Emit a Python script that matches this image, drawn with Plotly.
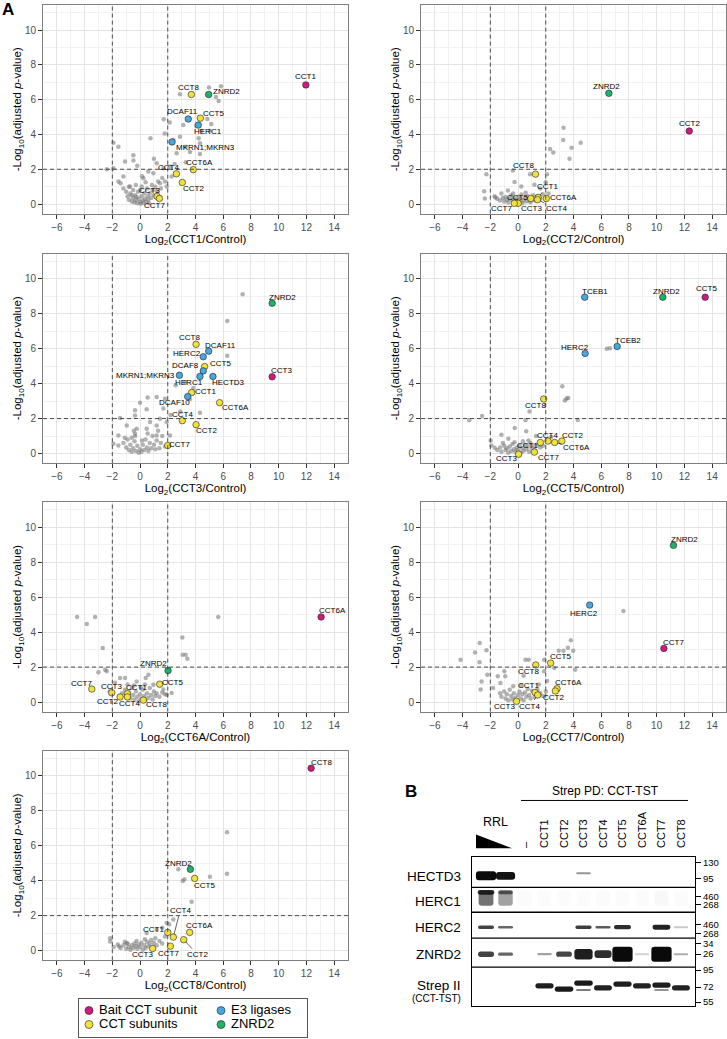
import plotly.graph_objects as go

FONT = "Liberation Sans, Arial, Helvetica, sans-serif"
W, H = 727, 1039

CLASS_COLORS = {
    "bait": "#CF1A82",
    "cct": "#F2E13C",
    "e3": "#48A7DF",
    "znrd2": "#1CB46B",
}

# ------------------------------------------------------------------
# Panel A: volcano data, (log2 fold change, -log10 adjusted p)
# highlighted proteins: (name, class, log2FC, -log10 p)
# ------------------------------------------------------------------
cct1_hits = [
    ("CCT1", "bait", 11.96, 6.85),
    ("CCT8", "cct", 3.70, 6.30),
    ("ZNRD2", "znrd2", 4.95, 6.30),
    ("DCAF11", "e3", 3.48, 4.89),
    ("CCT5", "cct", 4.35, 4.94),
    ("HERC1", "e3", 4.20, 4.54),
    ("MKRN1;MKRN3", "e3", 2.31, 3.57),
    ("CCT4", "cct", 2.62, 1.74),
    ("CCT6A", "cct", 3.84, 1.98),
    ("CCT2", "cct", 3.05, 1.24),
    ("CCT3", "cct", 1.23, 0.44),
    ("CCT7", "cct", 1.40, 0.32),
]
cct1_bg = [
    (2.88, 6.32), (4.97, 6.70), (5.84, 6.77), (5.48, 6.16), (5.67, 5.93),
    (2.14, 4.69), (1.71, 4.87), (3.12, 4.54), (4.85, 4.89), (5.14, 4.60),
    (4.06, 4.50), (4.44, 4.22), (5.04, 4.22), (4.23, 3.78), (0.75, 3.78),
    (1.78, 4.06), (2.88, 3.87), (2.40, 3.68), (4.32, 3.49), (3.29, 3.30),
    (2.64, 2.92), (4.32, 2.88), (3.60, 3.00), (-1.92, 3.53), (-1.56, 3.30),
    (-0.48, 2.81), (-0.48, 2.50), (-1.08, 2.44), (-2.40, 2.00), (-1.92, 2.06),
    (1.20, 2.35), (1.68, 2.06), (0.96, 1.77), (0.60, 1.87), (2.16, 2.16),
    (2.28, 1.58), (1.92, 1.01), (1.44, 1.20), (-1.20, 1.58), (-1.56, 1.30),
    (-0.72, 1.01), (0.24, 1.49), (0.12, 1.01), (2.50, 2.30), (3.30, 2.40),
    (1.00, 2.60), (-0.20, 2.20),
    (-1.2, 0.9), (-1.0, 0.7), (-0.9, 0.45), (-0.8, 0.25), (-0.7, 0.6),
    (-0.6, 0.15), (-0.5, 0.35), (-0.5, 0.8), (-0.4, 0.1), (-0.35, 0.5),
    (-0.3, 0.25), (-0.2, 0.05), (-0.15, 0.7), (-0.1, 0.3), (0.0, 0.12),
    (0.05, 0.02), (0.1, 0.45), (0.2, 0.2), (0.25, 0.08), (0.3, 0.6),
    (0.35, 0.3), (0.45, 0.15), (0.5, 0.9), (0.55, 0.45), (0.6, 0.25),
    (0.7, 0.6), (0.8, 0.35), (0.85, 1.1), (0.9, 0.8), (1.0, 0.5),
    (1.1, 1.0), (1.2, 0.75), (1.3, 1.3), (1.5, 0.9), (1.6, 1.5),
    (1.8, 1.3), (-1.4, 1.2), (-0.3, 1.1), (0.4, 1.25), (-0.8, 1.0),
    (0.0, 0.8), (0.15, 1.6), (-0.6, 0.5), (0.65, 0.05), (-0.25, 0.4),
]

cct2_hits = [
    ("CCT2", "bait", 12.35, 4.20),
    ("ZNRD2", "znrd2", 6.55, 6.37),
    ("CCT8", "cct", 1.26, 1.72),
    ("CCT5", "cct", 0.92, 0.32),
    ("CCT1", "cct", 1.45, 0.38),
    ("CCT4", "cct", 1.40, 0.25),
    ("CCT6A", "cct", 2.04, 0.32),
    ("CCT3", "cct", 0.01, 0.04),
    ("CCT7", "cct", -0.27, 0.04),
]
cct2_bg = [
    (3.28, 4.39), (3.26, 3.68), (3.86, 3.24), (4.52, 3.53), (2.31, 3.17),
    (2.54, 2.96), (3.71, 2.60), (-2.28, 1.72), (-0.37, 1.93), (0.87, 1.72),
    (2.09, 1.72), (-0.25, 1.26), (-2.44, 0.73), (-2.40, 0.32), (-1.63, 0.38),
    (-0.73, 0.78), (0.23, 1.01), (1.18, 1.11), (2.00, 1.25), (1.60, 0.90),
    (-1.20, 0.60),
    (-1.5, 0.3), (-1.3, 0.2), (-1.1, 0.35), (-1.0, 0.15), (-0.9, 0.4),
    (-0.8, 0.25), (-0.7, 0.1), (-0.6, 0.3), (-0.5, 0.5), (-0.4, 0.2),
    (-0.3, 0.35), (-0.2, 0.1), (-0.1, 0.25), (0.0, 0.4), (0.1, 0.15),
    (0.2, 0.3), (0.3, 0.05), (0.4, 0.2), (0.5, 0.35), (0.6, 0.15),
    (0.7, 0.45), (0.8, 0.2), (0.9, 0.1), (1.0, 0.3), (1.1, 0.5),
    (1.2, 0.2), (1.4, 0.45), (1.6, 0.3), (1.8, 0.55), (2.0, 0.25),
    (2.2, 0.6), (-0.35, 0.6), (0.25, 0.55), (-1.7, 0.45), (0.55, 0.65),
    (0.05, 0.05),
]

cct3_hits = [
    ("CCT3", "bait", 9.53, 4.39),
    ("ZNRD2", "znrd2", 9.53, 8.60),
    ("CCT8", "cct", 4.04, 6.25),
    ("DCAF11", "e3", 4.95, 5.86),
    ("HERC2", "e3", 4.56, 5.54),
    ("CCT5", "cct", 4.66, 4.98),
    ("DCAF8", "e3", 4.56, 4.73),
    ("MKRN1;MKRN3", "e3", 2.84, 4.48),
    ("HERC1", "e3", 4.32, 4.41),
    ("HECTD3", "e3", 5.26, 4.41),
    ("CCT1", "cct", 3.72, 3.49),
    ("DCAF10", "e3", 3.44, 3.26),
    ("CCT6A", "cct", 5.74, 2.91),
    ("CCT4", "cct", 3.05, 1.88),
    ("CCT2", "cct", 4.04, 1.65),
    ("CCT7", "cct", 2.00, 0.46),
]
cct3_bg = [
    (7.40, 9.12), (6.29, 7.59), (6.29, 5.59), (2.57, 3.91), (3.24, 4.10),
    (1.20, 3.24), (0.55, 3.20), (3.84, 3.75), (4.32, 2.34), (1.80, 3.14),
    (1.68, 2.57), (0.48, 2.53), (-0.36, 2.47), (-0.36, 2.18), (-1.44, 2.03),
    (-0.96, 1.61), (1.44, 1.99), (1.20, 1.61), (0.48, 1.42), (-0.24, 1.42),
    (-0.36, 1.13), (0.72, 1.80), (1.92, 1.80), (2.16, 1.03), (-1.56, 1.03),
    (-1.92, 0.56), (-1.56, 0.46), (1.20, 1.03), (2.90, 2.40), (3.60, 3.10),
    (2.20, 2.20), (0.00, 2.90), (-1.10, 0.90),
    (-1.2, 0.6), (-1.0, 0.35), (-0.9, 0.8), (-0.8, 0.2), (-0.7, 0.5),
    (-0.6, 0.1), (-0.5, 0.3), (-0.4, 0.7), (-0.35, 1.0), (-0.3, 0.15),
    (-0.2, 0.45), (-0.1, 0.05), (0.0, 0.25), (0.1, 0.1), (0.2, 0.5),
    (0.3, 0.2), (0.4, 0.8), (0.5, 0.35), (0.6, 0.15), (0.7, 0.6),
    (0.8, 0.3), (0.9, 1.0), (1.0, 0.5), (1.1, 0.25), (1.2, 0.75),
    (1.3, 1.3), (1.5, 0.6), (1.6, 1.0), (1.8, 0.4), (-0.45, 1.3),
    (0.15, 0.75), (-0.6, 0.9), (0.55, 1.15), (1.4, 0.3),
]

cct5_hits = [
    ("CCT5", "bait", 13.50, 8.95),
    ("ZNRD2", "znrd2", 10.44, 8.95),
    ("TCEB1", "e3", 4.81, 8.95),
    ("TCEB2", "e3", 7.15, 6.13),
    ("HERC2", "e3", 4.84, 5.73),
    ("CCT8", "cct", 1.85, 3.12),
    ("CCT1", "cct", 1.61, 0.63),
    ("CCT4", "cct", 2.16, 0.71),
    ("CCT6A", "cct", 2.64, 0.63),
    ("CCT2", "cct", 3.16, 0.71),
    ("CCT7", "cct", 1.18, 0.08),
    ("CCT3", "cct", 0.04, -0.04),
]
cct5_bg = [
    (6.63, 6.02), (6.40, 6.00), (3.19, 3.85), (3.38, 3.03), (3.62, 3.18),
    (3.50, 3.15), (0.83, 2.41), (0.54, 1.90), (-3.52, 1.90), (-2.59, 2.15),
    (4.31, 1.92), (-1.20, 1.07), (-0.24, 1.46), (0.59, 1.28), (-1.97, 0.75),
    (-1.92, 0.46), (-1.68, 0.33), (1.30, 1.00), (2.40, 0.95), (-0.70, 0.85),
    (-1.5, 0.2), (-1.3, 0.35), (-1.2, 0.1), (-1.0, 0.45), (-0.9, 0.2),
    (-0.8, 0.3), (-0.7, 0.05), (-0.6, 0.4), (-0.5, 0.15), (-0.4, 0.55),
    (-0.3, 0.25), (-0.2, 0.1), (-0.1, 0.35), (0.0, 0.2), (0.1, 0.45),
    (0.2, 0.05), (0.3, 0.3), (0.4, 0.15), (0.5, 0.5), (0.6, 0.25),
    (0.7, 0.4), (0.8, 0.1), (0.9, 0.6), (1.0, 0.3), (1.1, 0.45),
    (1.2, 0.2), (1.4, 0.5), (1.6, 0.35), (1.8, 0.45), (-0.25, 0.65),
    (0.35, 0.7), (-1.1, 0.6), (0.75, 0.75),
]

cct6a_hits = [
    ("CCT6A", "bait", 13.06, 4.87),
    ("ZNRD2", "znrd2", 2.02, 1.80),
    ("CCT5", "cct", 1.42, 1.02),
    ("CCT7", "cct", -3.48, 0.74),
    ("CCT3", "cct", -2.04, 0.53),
    ("CCT1", "cct", -0.91, 0.48),
    ("CCT2", "cct", -1.44, 0.29),
    ("CCT4", "cct", -0.91, 0.29),
    ("CCT8", "cct", 0.24, 0.11),
]
cct6a_bg = [
    (-4.54, 4.87), (-3.24, 4.87), (-3.84, 4.47), (5.64, 4.87), (3.05, 3.70),
    (-2.69, 3.09), (3.07, 2.71), (3.29, 2.71), (3.41, 2.48), (-3.00, 1.70),
    (-2.52, 1.85), (-2.40, 1.76), (0.60, 1.56), (0.41, 1.37), (-1.44, 1.37),
    (-1.08, 1.37), (-0.24, 1.18), (0.96, 0.99), (1.68, 0.71), (2.28, 0.52),
    (1.92, 0.42), (-1.80, 1.10), (-2.20, 0.60),
    (-1.3, 0.5), (-1.1, 0.7), (-1.0, 0.3), (-0.8, 0.55), (-0.7, 0.2),
    (-0.6, 0.8), (-0.5, 0.4), (-0.4, 0.15), (-0.3, 0.6), (-0.2, 0.3),
    (-0.1, 0.05), (0.0, 0.45), (0.1, 0.2), (0.2, 0.7), (0.3, 0.35),
    (0.4, 0.1), (0.5, 0.5), (0.6, 0.25), (0.7, 0.8), (0.8, 0.4),
    (0.9, 0.15), (1.0, 0.6), (1.1, 0.35), (1.2, 0.5), (1.4, 0.3),
    (1.6, 0.55), (1.8, 0.45), (-0.45, 0.95), (0.35, 1.0), (-0.9, 1.0),
    (0.05, 0.85),
]

cct7_hits = [
    ("CCT7", "bait", 10.52, 3.07),
    ("ZNRD2", "znrd2", 11.21, 8.97),
    ("HERC2", "e3", 5.17, 5.55),
    ("CCT5", "cct", 2.35, 2.23),
    ("CCT8", "cct", 1.28, 2.12),
    ("CCT6A", "cct", 2.81, 0.76),
    ("CCT2", "cct", 2.69, 0.63),
    ("CCT1", "cct", 1.23, 0.55),
    ("CCT4", "cct", 1.42, 0.40),
    ("CCT3", "cct", -0.11, 0.04),
]
cct7_bg = [
    (7.60, 5.21), (3.81, 3.53), (3.60, 3.10), (2.93, 2.94), (3.28, 2.94),
    (3.98, 2.94), (-4.15, 2.42), (-3.10, 2.84), (-2.76, 3.38), (-2.28, 2.96),
    (-2.78, 2.27), (-2.22, 1.56), (-2.63, 1.18), (-2.70, 0.71), (-1.46, 1.47),
    (-1.27, 1.09), (-0.99, 1.76), (-0.92, 1.47), (0.53, 2.42), (0.77, 2.42),
    (1.88, 2.42), (1.88, 1.76), (4.12, 1.85), (2.62, 1.95), (-1.80, 0.80),
    (-1.30, 0.50), (2.10, 1.20), (0.40, 1.50),
    (-1.2, 0.3), (-1.0, 0.6), (-0.9, 0.2), (-0.8, 0.45), (-0.7, 0.1),
    (-0.6, 0.7), (-0.5, 0.35), (-0.4, 0.15), (-0.3, 0.5), (-0.2, 0.25),
    (-0.1, 0.05), (0.0, 0.4), (0.1, 0.6), (0.2, 0.2), (0.3, 0.45),
    (0.4, 0.1), (0.5, 0.55), (0.6, 0.3), (0.7, 0.75), (0.8, 0.4),
    (0.9, 0.2), (1.0, 0.65), (1.2, 0.3), (1.4, 0.7), (1.6, 0.5),
    (1.8, 0.35), (2.0, 0.6), (-0.35, 0.9), (0.25, 0.95), (1.5, 1.0),
]

cct8_hits = [
    ("CCT8", "bait", 12.34, 10.44),
    ("ZNRD2", "znrd2", 3.63, 4.65),
    ("CCT5", "cct", 3.94, 4.13),
    ("CCT4", "cct", 2.40, 0.77),
    ("CCT1", "cct", 2.00, 1.04),
    ("CCT6A", "cct", 3.58, 1.04),
    ("CCT2", "cct", 3.15, 0.62),
    ("CCT7", "cct", 2.19, 0.25),
    ("CCT3", "cct", 0.91, 0.12),
]
cct8_bg = [
    (6.27, 6.77), (6.27, 4.40), (5.04, 4.23), (2.76, 4.65), (3.20, 4.08),
    (3.08, 3.98), (3.72, 2.79), (2.40, 1.77), (1.92, 1.58), (1.20, 1.19),
    (0.48, 1.00), (-2.16, 0.71), (-2.16, 0.52), (-1.51, 0.23), (-0.96, 0.42),
    (1.60, 1.30), (2.10, 1.50),
    (-1.9, 0.2), (-1.6, 0.35), (-1.4, 0.15), (-1.2, 0.3), (-1.0, 0.1),
    (-0.9, 0.4), (-0.8, 0.2), (-0.7, 0.05), (-0.6, 0.3), (-0.5, 0.15),
    (-0.4, 0.4), (-0.3, 0.25), (-0.2, 0.1), (-0.1, 0.35), (0.0, 0.2),
    (0.1, 0.45), (0.2, 0.05), (0.3, 0.3), (0.4, 0.15), (0.5, 0.5),
    (0.6, 0.25), (0.7, 0.4), (0.8, 0.6), (0.9, 0.2), (1.0, 0.45),
    (1.1, 0.7), (1.2, 0.3), (1.4, 0.55), (1.6, 0.4), (1.8, 0.8),
    (-0.25, 0.55), (0.35, 0.65), (-1.1, 0.5),
]

# label placement (pixel offset of label centre, leader line?) - ggrepel look
cct1_lab = {"CCT1": (0, -8, 0), "CCT8": (-3, -7, 0), "ZNRD2": (18, -3, 0),
            "DCAF11": (-6, -8, 0), "CCT5": (13, -5, 0), "HERC1": (10, 6, 0),
            "MKRN1;MKRN3": (33, 6, 0), "CCT4": (-8, -6, 0), "CCT6A": (6, -7, 0),
            "CCT2": (11, 6, 0), "CCT3": (-8, -6, 0), "CCT7": (-5, 7, 0)}
cct2_lab = {"CCT2": (0, -8, 0), "ZNRD2": (-2, -7, 0), "CCT8": (-12, -9, 0),
            "CCT5": (-13, -1, 0), "CCT1": (9, -11, 1), "CCT4": (19, 9, 1),
            "CCT6A": (17, -1, 0), "CCT3": (13, 5, 0), "CCT7": (-13, 5, 0)}
cct3_lab = {"CCT3": (9, -6, 0), "ZNRD2": (10, -6, 0), "CCT8": (-7, -7, 0),
            "DCAF11": (12, -6, 0), "HERC2": (-16, -3, 0), "CCT5": (16, -3, 0),
            "DCAF8": (-18, -5, 0), "MKRN1;MKRN3": (-34, 0, 0), "HERC1": (-11, 6, 0),
            "HECTD3": (16, 6, 0), "CCT1": (14, -1, 0), "DCAF10": (-13, 6, 0),
            "CCT6A": (16, 5, 0), "CCT4": (0, -6, 0), "CCT2": (10, 6, 0),
            "CCT7": (12, -1, 0)}
cct5_lab = {"CCT5": (1, -9, 0), "ZNRD2": (4, -6, 0), "TCEB1": (10, -6, 0),
            "TCEB2": (11, -6, 0), "HERC2": (-10, -6, 0), "CCT8": (-8, 6, 0),
            "CCT1": (-13, 3, 0), "CCT4": (0, -6, 0), "CCT6A": (22, 5, 1),
            "CCT2": (11, -6, 0), "CCT7": (14, 5, 0), "CCT3": (-12, 4, 0)}
cct6a_lab = {"CCT6A": (11, -6, 0), "ZNRD2": (-15, -7, 0), "CCT5": (13, -2, 0),
             "CCT7": (-10, -6, 0), "CCT3": (0, -6, 0), "CCT1": (9, -6, 0),
             "CCT2": (-13, 5, 0), "CCT4": (2, 7, 0), "CCT8": (13, 4, 0)}
cct7_lab = {"CCT7": (10, -6, 0), "ZNRD2": (11, -6, 0), "HERC2": (-6, 8, 0),
            "CCT5": (10, -7, 0), "CCT8": (-7, 7, 0), "CCT6A": (11, -6, 0),
            "CCT2": (-2, 6, 0), "CCT1": (-7, -7, 0), "CCT4": (-8, 11, 1),
            "CCT3": (-12, 5, 0)}
cct8_lab = {"CCT8": (10, -6, 0), "ZNRD2": (-12, -6, 0), "CCT5": (10, 7, 0),
            "CCT4": (7, -27, 1), "CCT1": (-14, -3, 0), "CCT6A": (10, -7, 0),
            "CCT2": (14, 15, 1), "CCT7": (-2, 7, 0), "CCT3": (-10, 6, 0)}

panels = [
    ("CCT1", cct1_hits, cct1_bg, cct1_lab),
    ("CCT2", cct2_hits, cct2_bg, cct2_lab),
    ("CCT3", cct3_hits, cct3_bg, cct3_lab),
    ("CCT5", cct5_hits, cct5_bg, cct5_lab),
    ("CCT6A", cct6a_hits, cct6a_bg, cct6a_lab),
    ("CCT7", cct7_hits, cct7_bg, cct7_lab),
    ("CCT8", cct8_hits, cct8_bg, cct8_lab),
]

# ------------------------------------------------------------------
# Panel B: western blot, relative band intensity per lane (0-1)
# ------------------------------------------------------------------
lane_text = ["", "", "–", "CCT1", "CCT2", "CCT3", "CCT4", "CCT5", "CCT6A", "CCT7", "CCT8"]
hectd3_band = [1.0, 0.95, 0, 0, 0, 0.35, 0, 0, 0, 0, 0]
herc1_top_band = [0.8, 0.5, 0, 0, 0, 0, 0, 0, 0, 0, 0]
herc1_band = [0.5, 0.3, 0.006, 0.006, 0.006, 0.006, 0.006, 0.006, 0.006, 0.012, 0.006]
herc2_band = [0.72, 0.55, 0, 0, 0, 0.75, 0.6, 0.82, 0, 0.88, 0.15]
znrd2_band = [0.72, 0.55, 0, 0.3, 0.7, 0.9, 0.82, 1.0, 0.12, 1.0, 0.25]
strep_band = [0, 0, 0, 0.9, 0.92, 0.92, 0.88, 0.9, 0.88, 0.9, 0.88]
strep_lower_band = [0, 0, 0, 0, 0, 0.45, 0, 0, 0, 0.35, 0]
mw_values = ["130", "95", "460", "268", "460", "268", "34", "26", "95", "72", "55"]
row_names = ["HECTD3", "HERC1", "HERC2", "ZNRD2", "Strep II"]

# ------------------------------------------------------------------
# geometry (pixels)
# ------------------------------------------------------------------
COLS = [(43, 348), (421, 726)]
ROWS = [(4, 213), (253, 463), (502, 712), (751, 961)]
GRID_POS = [(0, 0), (0, 1), (1, 0), (1, 1), (2, 0), (2, 1), (3, 0)]


def px_x(p):
    return p / W


def px_y(p):
    return 1 - p / H


fig = go.Figure()
layout = dict(
    width=W, height=H, margin=dict(l=0, r=0, t=0, b=0),
    paper_bgcolor="white", plot_bgcolor="white",
    showlegend=False, barmode="overlay",
    font=dict(family=FONT, color="black"),
)
annotations = []
shapes = []

for i, (bait, hits, bg, lab) in enumerate(panels):
    n = i + 1
    xa = "x" if n == 1 else f"x{n}"
    ya = "y" if n == 1 else f"y{n}"
    r, c = GRID_POS[i]
    (x0, x1), (y0, y1) = COLS[c], ROWS[r]

    layout["xaxis" if n == 1 else f"xaxis{n}"] = dict(
        domain=[px_x(x0), px_x(x1)], anchor=ya, range=[-7, 15],
        tick0=-6, dtick=2, showgrid=True, gridcolor="#E4E4E4", gridwidth=0.8,
        minor=dict(dtick=1, showgrid=True, gridcolor="#F1F1F1", gridwidth=0.6),
        zeroline=False, showline=True, mirror=True, linecolor="#7F7F7F", linewidth=1,
        ticks="outside", ticklen=4, tickcolor="#333333", tickwidth=0.8,
        tickfont=dict(size=10, color="#4D4D4D", family=FONT),
        title=dict(text=f"Log<sub>2</sub>({bait}/Control)", standoff=2,
                   font=dict(size=11.5, color="black", family=FONT)),
    )
    layout["yaxis" if n == 1 else f"yaxis{n}"] = dict(
        domain=[px_y(y1), px_y(y0)], anchor=xa, range=[-0.55, 11.45],
        tick0=0, dtick=2, showgrid=True, gridcolor="#E4E4E4", gridwidth=0.8,
        minor=dict(dtick=1, showgrid=True, gridcolor="#F1F1F1", gridwidth=0.6),
        zeroline=False, showline=True, mirror=True, linecolor="#7F7F7F", linewidth=1,
        ticks="outside", ticklen=4, tickcolor="#333333", tickwidth=0.8,
        tickfont=dict(size=10, color="#4D4D4D", family=FONT),
        title=dict(text="-Log<sub>10</sub>(adjusted <i>p</i>-value)", standoff=0,
                   font=dict(size=11.5, color="black", family=FONT)),
    )

    # thresholds
    for xv in (-2, 2):
        shapes.append(dict(type="line", xref=xa, yref=f"{ya} domain", x0=xv, x1=xv,
                           y0=0, y1=1, line=dict(color="#3A3A3A", width=0.9, dash="4px,3px")))
    shapes.append(dict(type="line", xref=f"{xa} domain", yref=ya, x0=0, x1=1,
                       y0=2, y1=2, line=dict(color="#3A3A3A", width=0.9, dash="4px,3px")))

    fig.add_trace(go.Scatter(
        x=[p[0] for p in bg], y=[p[1] for p in bg], mode="markers",
        marker=dict(size=4.5, color="rgba(115,115,115,0.55)", line=dict(width=0)),
        xaxis=xa, yaxis=ya, hoverinfo="skip",
    ))
    for cls in ("cct", "e3", "znrd2", "bait"):
        sel = [h for h in hits if h[1] == cls]
        if not sel:
            continue
        fig.add_trace(go.Scatter(
            x=[h[2] for h in sel], y=[h[3] for h in sel], mode="markers",
            marker=dict(size=6.5, color=CLASS_COLORS[cls], line=dict(width=0.6, color="#222222")),
            xaxis=xa, yaxis=ya, text=[h[0] for h in sel], hoverinfo="text",
        ))
    for name, cls, hx, hy in hits:
        dx, dy, leader = lab[name]
        annotations.append(dict(
            x=hx, y=hy, xref=xa, yref=ya, text=name, showarrow=True,
            ax=dx, ay=dy, arrowhead=0, arrowwidth=0.7, standoff=3,
            arrowcolor="#222222" if leader else "rgba(0,0,0,0)",
            font=dict(size=8, color="#000000", family=FONT),
        ))

# ---------------------------- legend box ----------------------------
leg_labels = ["Bait CCT subunit", "CCT subunits", "E3 ligases", "ZNRD2"]
leg_classes = ["bait", "cct", "e3", "znrd2"]
leg_col = [10, 10, 142, 142]
leg_row = [26.5, 12.5, 26.5, 12.5]
layout["xaxis9"] = dict(domain=[px_x(79), px_x(307)], anchor="y10", range=[0, 228],
                        showgrid=False, zeroline=False, showticklabels=False,
                        showline=True, mirror=True, linecolor="#555555", linewidth=1, ticks="")
layout["yaxis10"] = dict(domain=[px_y(1038), px_y(1000)], anchor="x9", range=[0, 38],
                         showgrid=False, zeroline=False, showticklabels=False,
                         showline=True, mirror=True, linecolor="#555555", linewidth=1, ticks="")
fig.add_trace(go.Scatter(
    x=leg_col, y=leg_row, mode="markers",
    marker=dict(size=8, color=[CLASS_COLORS[k] for k in leg_classes],
                line=dict(width=0.6, color="#222222")),
    xaxis="x9", yaxis="y10", hoverinfo="skip", cliponaxis=False,
))
fig.add_trace(go.Scatter(
    x=[v + 10 for v in leg_col], y=leg_row, mode="text",
    text=leg_labels, textposition="middle right",
    textfont=dict(size=13, color="black", family=FONT),
    xaxis="x9", yaxis="y10", hoverinfo="skip", cliponaxis=False,
))

# ---------------------------- western blot ----------------------------
BLOT_X = (472, 695)
BLOT_Y = (858, 1007)
ROW_EDGES = [0, 30, 55, 81, 110, 149]      # blot-local px
BAND_ROWS = [                               # (values, centre, thin, thick)
    (hectd3_band, [18.5] * 5 + [16] + [18] * 5, 2, 9),
    (herc1_band, [41] * 11, 15, 16),
    (herc1_top_band, [35] * 11, 4, 6),
    (herc2_band, [70] * 11, 2, 7),
    (znrd2_band, [97] * 11, 2, 15),
    (strep_band, [129, 129, 129, 128.7, 132, 126, 130.7, 127, 128.7, 128, 130.7], 4, 6),
    (strep_lower_band, [133] * 11, 2, 3),
]

layout["xaxis8"] = dict(
    domain=[px_x(BLOT_X[0]), px_x(BLOT_X[1])], anchor="y8", range=[-0.72, 10.72],
    side="top", tickvals=list(range(11)), ticktext=lane_text, tickangle=-90,
    ticks="", showgrid=False, zeroline=False, showline=True, mirror=True,
    linecolor="black", linewidth=1.3, ticklabelstandoff=6,
    tickfont=dict(size=11, color="black", family=FONT),
)
layout["yaxis8"] = dict(
    domain=[px_y(BLOT_Y[1]), px_y(BLOT_Y[0])], anchor="x8", range=[149, 0],
    showticklabels=False, ticks="", showgrid=False, zeroline=False,
    showline=True, mirror=True, linecolor="black", linewidth=1.3,
)
layout["yaxis9"] = dict(
    overlaying="y8", anchor="x8", side="right", range=[149, 0],
    tickvals=[5, 21, 39, 47, 67, 76, 86, 97, 113, 130, 145], ticktext=mw_values,
    ticks="outside", ticklen=5, tickwidth=1, tickcolor="black",
    showgrid=False, zeroline=False, showline=False,
    tickfont=dict(size=9.5, color="black", family=FONT),
)

for vals, centres, t_thin, t_thick in BAND_ROWS:
    xs, hs, bases, cols, widths = [], [], [], [], []
    for lane, v in enumerate(vals):
        if v <= 0:
            continue
        t = t_thin + (t_thick - t_thin) * v ** 4
        xs.append(lane)
        hs.append(t)
        bases.append(centres[lane] - t / 2)
        cols.append(f"rgba(10,10,10,{min(1.0, v ** 0.8):.3f})")
        widths.append(0.74 + 0.3 * v ** 4)
    fig.add_trace(go.Bar(
        x=xs, y=hs, base=bases, width=widths, xaxis="x8", yaxis="y8",
        marker=dict(color=cols, line=dict(width=0), cornerradius=3), hoverinfo="skip",
    ))
fig.add_trace(go.Scatter(x=[None], y=[None], xaxis="x8", yaxis="y9", hoverinfo="skip"))

for e in ROW_EDGES[1:-1]:
    shapes.append(dict(type="line", xref="x8 domain", yref="y8", x0=0, x1=1, y0=e, y1=e,
                       line=dict(color="black", width=1.3)))

row_centres = [19, 44, 70, 97, 128]
for name, yc in zip(row_names, row_centres):
    annotations.append(dict(x=px_x(463), y=yc, xref="paper", yref="y8", text=name,
                            xanchor="right", yanchor="middle", showarrow=False,
                            font=dict(size=13.5, color="black", family=FONT)))
annotations.append(dict(x=px_x(463), y=141, xref="paper", yref="y8", text="(CCT-TST)",
                        xanchor="right", yanchor="middle", showarrow=False,
                        font=dict(size=10, color="black", family=FONT)))

# RRL dilution wedge and pull-down bracket
shapes.append(dict(type="path", xref="paper", yref="paper",
                   path=f"M {px_x(476)},{px_y(835)} L {px_x(476)},{px_y(849)} L {px_x(512)},{px_y(849)} Z",
                   fillcolor="black", line=dict(width=0)))
shapes.append(dict(type="line", xref="paper", yref="paper", x0=px_x(521), x1=px_x(688),
                   y0=px_y(801), y1=px_y(801), line=dict(color="black", width=1)))
annotations += [
    dict(x=px_x(495), y=px_y(823), xref="paper", yref="paper", text="RRL", showarrow=False,
         xanchor="center", yanchor="middle", font=dict(size=12.5, color="black", family=FONT)),
    dict(x=px_x(605), y=px_y(792), xref="paper", yref="paper", text="Strep PD: CCT-TST",
         showarrow=False, xanchor="center", yanchor="middle",
         font=dict(size=12, color="black", family=FONT)),
    dict(x=px_x(411), y=px_y(792), xref="paper", yref="paper", text="<b>B</b>", showarrow=False,
         xanchor="center", yanchor="middle", font=dict(size=17, color="black", family=FONT)),
    dict(x=px_x(8), y=px_y(9), xref="paper", yref="paper", text="<b>A</b>", showarrow=False,
         xanchor="center", yanchor="middle", font=dict(size=17, color="black", family=FONT)),
]

layout["annotations"] = annotations
layout["shapes"] = shapes
fig.update_layout(**layout)
fig.write_html("out.html", config={"displayModeBar": False},
               post_script="document.body.style.margin='0';"
                           "document.body.style.overflow='hidden';")
